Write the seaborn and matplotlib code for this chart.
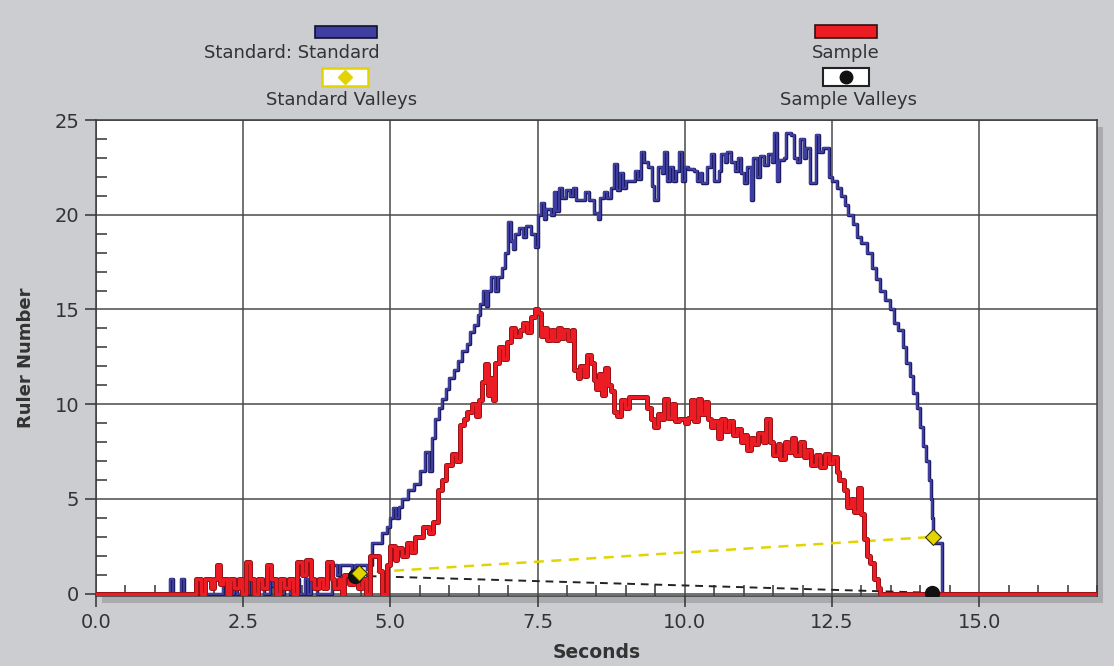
import numpy as np
import pandas as pd
import matplotlib
matplotlib.use("Agg")
import matplotlib.pyplot as plt
import matplotlib.patheffects as pe
from matplotlib.patches import Rectangle
from matplotlib.ticker import MultipleLocator, FormatStrFormatter
from matplotlib.lines import Line2D
import seaborn as sns

# ---------------- data (change points of step series) ----------------
std_t = [0.00, 1.25, 1.30, 1.45, 1.50, 1.70, 1.75, 2.15, 2.20, 2.35, 2.40,
         2.60, 2.65, 2.75, 2.85, 2.95, 3.00, 3.05, 3.10, 3.20, 3.30, 3.35, 3.45, 3.55, 3.60, 3.65, 3.75,
         4.00, 4.10, 4.15, 4.30, 4.35, 4.40, 4.55, 4.60, 4.65, 4.68, 4.85, 4.95, 5.00, 5.05, 5.10, 5.15,
         5.20, 5.30, 5.40, 5.50, 5.58, 5.65, 5.70, 5.75, 5.82, 5.88, 5.95, 6.00, 6.08, 6.15, 6.22, 6.30,
         6.36, 6.42, 6.48, 6.52, 6.57, 6.62, 6.65, 6.70, 6.78, 6.82, 6.90, 6.95, 7.00, 7.04, 7.08, 7.12,
         7.18, 7.25, 7.30, 7.38, 7.45, 7.50, 7.55, 7.60, 7.65, 7.72, 7.78, 7.82, 7.86, 7.92, 7.98, 8.05,
         8.10, 8.15, 8.22, 8.30, 8.38, 8.45, 8.52, 8.56, 8.62, 8.68, 8.75, 8.80, 8.85, 8.90, 8.95, 9.00,
         9.08, 9.15, 9.20, 9.25, 9.30, 9.38, 9.45, 9.48, 9.55, 9.62, 9.65, 9.70, 9.75, 9.80, 9.85, 9.90,
         9.95, 10.00, 10.05, 10.15, 10.20, 10.25, 10.30, 10.38, 10.45, 10.50, 10.58, 10.62, 10.68, 10.72,
         10.78, 10.85, 10.90, 10.95, 11.00, 11.05, 11.12, 11.16, 11.22, 11.28, 11.35, 11.42, 11.48, 11.52,
         11.56, 11.60, 11.68, 11.72, 11.80, 11.86, 11.90, 11.95, 12.02, 12.06, 12.12, 12.22, 12.28, 12.35,
         12.45, 12.50, 12.58, 12.65, 12.72, 12.78, 12.85, 12.92, 13.00, 13.10, 13.18, 13.25, 13.32, 13.40,
         13.48, 13.55, 13.62, 13.70, 13.76, 13.82, 13.88, 13.94, 14.00, 14.05, 14.10, 14.15, 14.18, 14.20,
         14.22, 14.25, 14.37, 17.00]
std_v = [0.0, 0.8, 0.0, 0.8, 0.0, 0.8, 0.0, 0.8, 0.0, 0.8, 0.0,
         0.8, 0.0, 0.8, 0.0, 0.8, 0.4, 0.8, 0.0, 0.8, 0.0, 0.8, 0.0, 0.8, 0.0, 0.8, 0.0,
         1.5, 1.0, 1.5, 1.5, 1.0, 1.5, 1.5, 1.0, 1.5, 2.7, 3.2, 3.5, 4.0, 4.5, 4.0, 4.6,
         5.0, 5.5, 5.8, 6.5, 7.5, 6.5, 8.2, 9.2, 9.8, 10.3, 10.8, 11.4, 11.8, 12.3, 12.8, 13.2,
         13.8, 14.2, 14.7, 15.3, 16.0, 15.2, 16.0, 16.7, 16.0, 16.7, 17.2, 18.0, 19.6, 18.6, 18.2, 19.0,
         19.3, 18.8, 19.4, 19.0, 18.3, 20.0, 20.6, 19.8, 20.3, 20.0, 21.2, 20.2, 21.4, 20.9, 21.3, 21.0,
         21.4, 20.8, 20.8, 21.2, 20.8, 20.1, 19.8, 20.9, 21.2, 20.9, 21.4, 22.7, 21.3, 22.2, 21.4, 21.8,
         21.8, 22.3, 21.9, 23.3, 22.8, 22.5, 21.5, 20.8, 22.5, 22.2, 23.3, 21.8, 22.5, 21.8, 22.3, 23.3,
         21.8, 22.5, 22.4, 22.3, 21.8, 22.2, 21.7, 22.5, 23.2, 21.8, 22.3, 23.2, 22.8, 23.3,
         22.8, 22.3, 23.0, 22.2, 21.7, 22.5, 20.8, 23.0, 22.0, 23.1, 22.6, 23.2, 22.8, 24.3,
         21.8, 22.9, 23.0, 24.3, 24.2, 23.0, 22.8, 24.0, 23.0, 23.5, 21.7, 24.2, 23.3, 23.5,
         22.0, 21.8, 21.4, 21.0, 20.5, 20.0, 19.5, 18.8, 18.5, 18.0, 17.2, 16.6, 16.0, 15.5,
         15.0, 14.3, 13.9, 13.0, 12.2, 11.5, 10.6, 9.8, 8.8, 7.8, 7.0, 6.0, 5.0, 4.0,
         3.0, 2.7, 0.0, 0.0]

smp_t = [0.00, 1.70, 1.78, 1.85, 1.95, 2.00, 2.05, 2.10, 2.15, 2.22, 2.28, 2.35, 2.42, 2.48, 2.55,
         2.62, 2.68, 2.75, 2.82, 2.90, 2.98, 3.05, 3.12, 3.20, 3.28, 3.35, 3.42, 3.50, 3.56, 3.65, 3.70,
         3.78, 3.85, 3.92, 4.00, 4.05, 4.12, 4.18, 4.22, 4.30, 4.38, 4.45, 4.52, 4.58, 4.66, 4.80, 4.85,
         4.94, 5.00, 5.08, 5.12, 5.20, 5.28, 5.35, 5.42, 5.55, 5.65, 5.72, 5.80, 5.88, 5.95, 6.05, 6.12,
         6.18, 6.25, 6.30, 6.38, 6.45, 6.50, 6.55, 6.60, 6.65, 6.70, 6.75, 6.78, 6.85, 6.92, 6.98, 7.05,
         7.12, 7.20, 7.26, 7.32, 7.38, 7.45, 7.50, 7.55, 7.60, 7.66, 7.72, 7.78, 7.84, 7.90, 7.95, 8.02,
         8.08, 8.12, 8.18, 8.22, 8.28, 8.34, 8.40, 8.46, 8.50, 8.55, 8.60, 8.65, 8.70, 8.75, 8.80, 8.85,
         8.92, 8.98, 9.05, 9.15, 9.30, 9.36, 9.42, 9.48, 9.55, 9.60, 9.65, 9.72, 9.78, 9.84, 9.90, 10.00,
         10.06, 10.10, 10.16, 10.22, 10.28, 10.34, 10.40, 10.45, 10.50, 10.56, 10.62, 10.68, 10.75, 10.82,
         10.88, 10.95, 11.00, 11.05, 11.12, 11.18, 11.25, 11.32, 11.38, 11.45, 11.50, 11.58, 11.62, 11.70,
         11.76, 11.82, 11.88, 11.95, 12.02, 12.08, 12.15, 12.22, 12.30, 12.38, 12.45, 12.52, 12.58, 12.62,
         12.70, 12.76, 12.82, 12.88, 12.95, 13.00, 13.04, 13.10, 13.15, 13.22, 13.28, 13.32, 17.00]
smp_v = [0.0, 0.8, 0.0, 0.8, 0.3, 0.8, 1.5, 0.5, 0.8, 0.0, 0.8, 0.3, 0.8, 0.0, 1.7,
         0.8, 0.0, 0.8, 0.3, 1.5, 0.8, 0.0, 0.8, 0.3, 0.8, 0.0, 1.7, 1.0, 1.8, 0.8, 0.3,
         0.8, 0.3, 1.7, 0.8, 0.3, 0.8, 0.0, 1.0, 0.5, 0.8, 0.3, 0.8, 0.0, 2.0, 1.2, 0.0,
         1.5, 2.5, 1.8, 2.4, 2.0, 2.7, 2.2, 3.0, 3.5, 3.2, 3.8, 5.5, 6.0, 6.8, 7.4, 7.0,
         8.9, 9.2, 9.6, 10.0, 9.4, 10.2, 11.2, 12.1, 10.5, 11.4, 10.2, 12.2, 13.0, 12.4, 13.3, 14.0,
         13.6, 13.9, 14.3, 13.8, 14.6, 15.0, 14.8, 13.6, 14.0, 13.4, 13.9, 13.4, 14.0, 13.5, 13.9, 13.4,
         13.9, 11.8, 11.4, 12.0, 11.5, 12.6, 12.2, 11.3, 10.8, 11.6, 10.5, 11.9, 11.0, 10.7, 9.6, 9.4,
         10.2, 9.8, 10.4, 10.4, 10.4, 9.8, 9.2, 8.8, 9.5, 9.2, 10.3, 9.3, 10.0, 9.1, 9.2, 9.0,
         9.3, 10.2, 9.1, 10.3, 9.5, 10.1, 9.2, 8.8, 9.1, 8.2, 9.2, 8.6, 9.1, 8.4,
         8.7, 8.0, 8.4, 7.6, 8.2, 7.9, 8.5, 8.0, 9.2, 8.0, 7.3, 7.9, 7.1, 8.0,
         7.5, 8.2, 7.3, 8.0, 7.2, 7.6, 6.8, 7.3, 6.7, 7.4, 6.9, 7.2, 6.4, 6.0,
         5.5, 4.6, 5.0, 4.3, 5.6, 4.2, 2.9, 2.0, 1.6, 0.8, 0.3, 0.0, 0.0]

std_valley_t = [4.47, 14.22]
std_valley_v = [1.10, 3.00]
smp_valley_t = [4.40, 14.20]
smp_valley_v = [0.95, 0.05]

x_ticks = [0.0, 2.5, 5.0, 7.5, 10.0, 12.5, 15.0]
y_ticks = [0, 5, 10, 15, 20, 25]

# ---------------- style ----------------
sns.set_style("white")
plt.rcParams["font.family"] = ["DejaVu Sans"]

BG = "#cbcdd0"
BLUE = "#3f3fa2"
BLUE_EDGE = "#1c1c5e"
RED = "#ec1c24"
RED_EDGE = "#8a1014"
YEL = "#e2d400"

fig = plt.figure(figsize=(11.14, 6.66), dpi=100, facecolor=BG)
L, B, W, H = 0.0862, 0.1051, 0.8985, 0.7147
ax = fig.add_axes([L, B, W, H])
ax.set_facecolor("white")

# drop shadow under the plot area
shadow = Rectangle((L + 0.005, B - 0.010), W, H, transform=fig.transFigure,
                   facecolor="#a9abae", edgecolor="none", zorder=-1)
fig.patches.append(shadow)

std_df = pd.DataFrame({"t": std_t, "v": std_v})
smp_df = pd.DataFrame({"t": smp_t, "v": smp_v})

sns.lineplot(data=std_df, x="t", y="v", ax=ax, drawstyle="steps-post", estimator=None,
             sort=False, color=BLUE, linewidth=1.4, zorder=3,
             path_effects=[pe.Stroke(linewidth=2.5, foreground=BLUE_EDGE), pe.Normal()])
sns.lineplot(data=smp_df, x="t", y="v", ax=ax, drawstyle="steps-post", estimator=None,
             sort=False, color=RED, linewidth=2.4, zorder=4,
             path_effects=[pe.Stroke(linewidth=3.6, foreground=RED_EDGE), pe.Normal()])

# valley connectors
ax.plot(std_valley_t, std_valley_v, linestyle=(0, (4, 3)), color=YEL, linewidth=1.8, zorder=3.5)
ax.plot(smp_valley_t, smp_valley_v, linestyle=(0, (4, 3)), color="#222222", linewidth=1.4, zorder=3.5)
ax.plot(std_valley_t, std_valley_v, linestyle="none", marker="D", markersize=8,
        markerfacecolor=YEL, markeredgecolor="#333300", markeredgewidth=0.8, zorder=6)
ax.plot(smp_valley_t, smp_valley_v, linestyle="none", marker="o", markersize=10,
        markerfacecolor="#111111", markeredgecolor="#111111", zorder=5)

# axes
ax.set_xlim(0, 17)
ax.set_ylim(-0.12, 25)
ax.set_xticks(x_ticks)
ax.set_yticks(y_ticks)
ax.xaxis.set_major_formatter(FormatStrFormatter("%.1f"))
ax.yaxis.set_major_formatter(FormatStrFormatter("%d"))
ax.xaxis.set_minor_locator(MultipleLocator(0.5))
ax.yaxis.set_minor_locator(MultipleLocator(1))
ax.tick_params(axis="x", which="both", bottom=True, top=False)
ax.tick_params(axis="y", which="both", left=True, right=False)
ax.tick_params(which="major", direction="out", length=8, width=1.1, color="#333333",
               labelsize=14, labelcolor="#333333", pad=4)
ax.tick_params(which="minor", direction="in", length=8, width=1.1, color="#333333")
ax.grid(True, which="major", color="#4a4a4a", linewidth=1.1)
ax.set_axisbelow(True)
for s in ax.spines.values():
    s.set_color("#3a3a3a")
    s.set_linewidth(1.1)

ax.set_xlabel("Seconds", fontsize=13.5, fontweight="bold", color="#333333", labelpad=8)
ax.set_ylabel("Ruler Number", fontsize=13, fontweight="bold", color="#333333", labelpad=14)

# ---------------- legend (custom layout) ----------------
def box(cx, cy, w, h, fc, ec, lw=1.2):
    r = Rectangle((cx - w / 2, cy - h / 2), w, h, transform=fig.transFigure,
                  facecolor=fc, edgecolor=ec, linewidth=lw, zorder=5)
    fig.patches.append(r)

txt = dict(fontsize=13, color="#333333", ha="center", va="center")
box(0.3106, 0.952, 0.0557, 0.018, BLUE, "#111133")
fig.text(0.262, 0.920, "Standard: Standard", **txt)
box(0.3097, 0.884, 0.0413, 0.027, "white", YEL, lw=1.8)
fig.add_artist(Line2D([0.3097], [0.884], transform=fig.transFigure, marker="D", markersize=7,
                      markerfacecolor=YEL, markeredgecolor=YEL, linestyle="none", zorder=10))
fig.text(0.307, 0.850, "Standard Valleys", **txt)

box(0.7594, 0.953, 0.0557, 0.019, RED, "#331111")
fig.text(0.7594, 0.920, "Sample", **txt)
box(0.759, 0.884, 0.0413, 0.027, "white", "#222222", lw=1.5)
fig.add_artist(Line2D([0.759], [0.884], transform=fig.transFigure, marker="o", markersize=9,
                      markerfacecolor="#111111", markeredgecolor="#111111", linestyle="none", zorder=10))
fig.text(0.762, 0.850, "Sample Valleys", **txt)

fig.savefig("out.png", dpi=100, facecolor=BG)
